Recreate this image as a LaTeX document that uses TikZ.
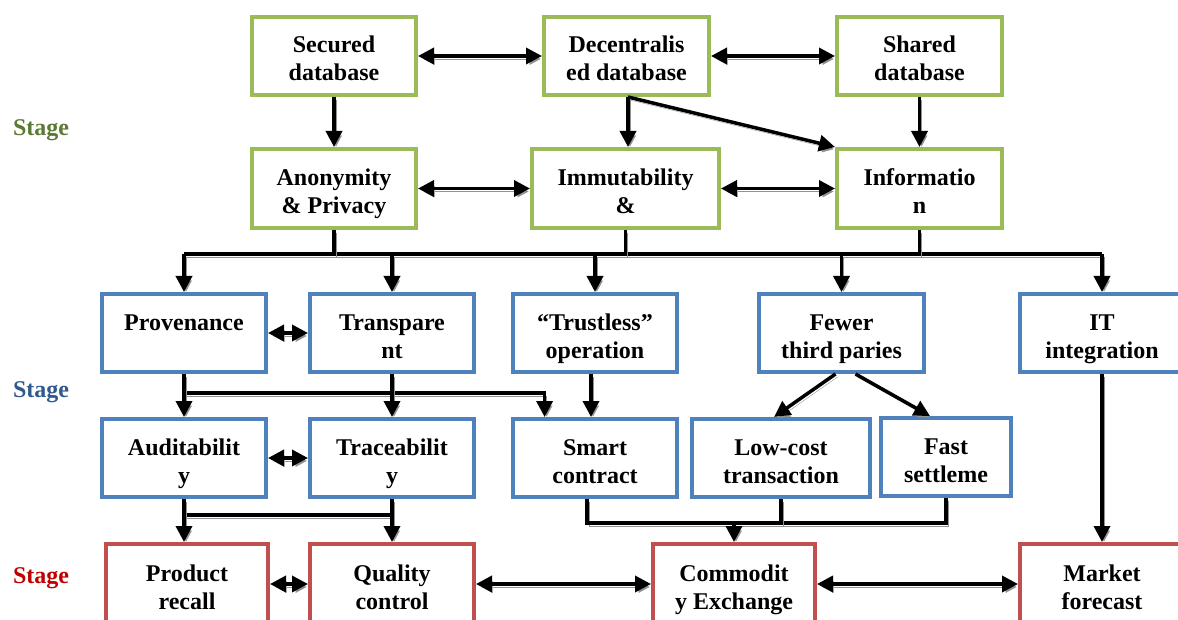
\documentclass[tikz,border=0pt]{standalone}
\usepackage{fontspec}
\setmainfont{Liberation Serif}
\usetikzlibrary{arrows.meta,calc}

\definecolor{boxgreen}{HTML}{9BBB59}
\definecolor{boxblue}{HTML}{4F81BD}
\definecolor{boxred}{HTML}{C0504D}
\definecolor{stagegreen}{HTML}{5A7A32}
\definecolor{stageblue}{HTML}{2F5A8E}
\definecolor{stagered}{HTML}{C00000}
\definecolor{shadowgrey}{HTML}{929292}

% fixed height for the first line of every box label
\newcommand\boxstrut{\rule{0pt}{27.5pt}}

\tikzset{
  box/.style={draw, line width=4pt, fill=white, align=center, inner sep=0pt,
    minimum height=78pt, font=\fontsize{24}{28}\selectfont\bfseries,
    execute at end node={\rule[-5.5pt]{0pt}{5.5pt}}},
  gbox/.style={box, draw=boxgreen},
  bbox/.style={box, draw=boxblue},
  rbox/.style={box, draw=boxred},
  stagelabel/.style={font=\fontsize{24}{28}\selectfont\bfseries, inner sep=0pt},
  link/.style={line width=3.5pt,
    preaction={draw=shadowgrey, transform canvas={shift={(2pt,-3pt)}}}},
  tip/.tip={Triangle[length=16pt,width=16pt]},
  arr/.style={link, -tip},
  darr/.style={link, tip-tip},
}

\begin{document}
\begin{tikzpicture}[x=1pt,y=-1pt]
\useasboundingbox (0,0) rectangle (1178,620);
\clip (0,0) rectangle (1178,620);

% stage labels
\node[stagelabel, text=stagegreen] (st1) at (41,130) {Stage};
\node[stagelabel, text=stageblue]  (st2) at (41,392) {Stage};
\node[stagelabel, text=stagered]   (st3) at (41,578) {Stage};

% stage 1: database properties
\node[gbox, minimum width=164pt] (sec) at (334,56)   {\boxstrut Secured\\database};
\node[gbox, minimum width=165pt] (dec) at (626.5,56) {\boxstrut Decentralis\\ed database};
\node[gbox, minimum width=165pt] (sha) at (919.5,56) {\boxstrut Shared\\database};

\node[gbox, minimum width=164pt, minimum height=79pt] (ano) at (334,188.5)   {\boxstrut Anonymity\\\& Privacy};
\node[gbox, minimum width=187pt, minimum height=79pt] (imm) at (625.5,188.5) {\boxstrut Immutability\\\&};
\node[gbox, minimum width=165pt, minimum height=79pt] (inf) at (919.5,188.5) {\boxstrut Informatio\\n};

% stage 2: features
\node[bbox, minimum width=164pt] (pro) at (184,333)   {\boxstrut Provenance\\\phantom{y}};
\node[bbox, minimum width=164pt] (tra) at (392,333)   {\boxstrut Transpare\\nt};
\node[bbox, minimum width=164pt] (tru) at (595,333)   {\boxstrut “Trustless”\\operation};
\node[bbox, minimum width=165pt] (few) at (841.5,333) {\boxstrut Fewer\\third paries};
\node[bbox, minimum width=164pt] (itg) at (1102,333)  {\boxstrut IT\\integration};

\node[bbox, minimum width=164pt] (aud) at (184,458) {\boxstrut Auditabilit\\y};
\node[bbox, minimum width=164pt] (trc) at (392,458) {\boxstrut Traceabilit\\y};
\node[bbox, minimum width=164pt] (sma) at (595,458) {\boxstrut Smart\\contract};
\node[bbox, minimum width=178pt] (low) at (781,458) {\boxstrut Low-cost\\transaction};
\node[bbox, minimum width=130pt] (fas) at (946,457) {\boxstrut Fast\\settleme};

% stage 3: applications
\node[rbox, minimum width=162pt, minimum height=80pt] (prd) at (187,584)  {\boxstrut Product\\recall};
\node[rbox, minimum width=164pt, minimum height=80pt] (qua) at (392,584)  {\boxstrut Quality\\control};
\node[rbox, minimum width=162pt, minimum height=80pt] (com) at (734,584)  {\boxstrut Commodit\\y Exchange};
\node[rbox, minimum width=164pt, minimum height=80pt] (mkt) at (1102,584) {\boxstrut Market\\forecast};

% stage 1 links
\coordinate (decOut) at ($(dec.south)+(1.5,0)$);
\coordinate (immIn) at (decOut |- imm.north);
\draw[darr] (sec.east) -- (dec.west);
\draw[darr] (dec.east) -- (sha.west);
\draw[arr] (sec.south) -- (ano.north);
\draw[arr] (decOut) -- (immIn);
\draw[arr] (decOut) -- (inf.north west);
\draw[arr] (sha.south) -- (inf.north);
\draw[darr] (ano.east) -- (imm.west);
\draw[darr] (imm.east) -- (inf.west);

% distribution bus to stage 2
\coordinate (bus) at (0,254);
\draw[link] (pro.north |- bus) -- (itg.north |- bus);
\draw[link] (ano.south) -- (ano.south |- bus);
\draw[link] (imm.south) -- (imm.south |- bus);
\draw[link] (inf.south) -- (inf.south |- bus);
\draw[arr] (pro.north |- bus) -- (pro.north);
\draw[arr] (tra.north |- bus) -- (tra.north);
\draw[arr] (tru.north |- bus) -- (tru.north);
\draw[arr] (few.north |- bus) -- (few.north);
\draw[arr] (itg.north |- bus) -- (itg.north);

% stage 2 links
\draw[darr] (pro.east) -- (tra.west);
\coordinate (bus2) at (0,393);
\coordinate (smaIn) at ($(sma.north west)!0.2!(sma.north east)$);
\coordinate (truOut) at ($(tru.south)+(-4,0)$);
\coordinate (smaTop) at ($(sma.north)+(-4,0)$);
\coordinate (fewL) at ($(few.south)+(-6,0)$);
\coordinate (fewR) at ($(few.south)+(14,0)$);
\coordinate (lowIn) at ($(low.north)+(-7,0)$);
\coordinate (fasIn) at ($(fas.north)+(-16,0)$);
\draw[arr] (pro.south |- bus2) -| (smaIn);
\draw[arr] (pro.south) -- (aud.north);
\draw[arr] (tra.south) -- (trc.north);
\draw[arr] (truOut) -- (smaTop);
\draw[arr] (fewL) -- (lowIn);
\draw[arr] (fewR) -- (fasIn);
\draw[darr] (aud.east) -- (trc.west);

% links to stage 3
\coordinate (bus3) at (0,515);
\draw[link] (aud.south |- bus3) -- (trc.south |- bus3);
\draw[arr] (aud.south) -- (aud.south |- prd.north);
\draw[arr] (trc.south) -- (qua.north);

\coordinate (bus4) at (0,523);
\coordinate (smaOut) at ($(sma.south)+(-8,0)$);
\draw[link] (smaOut) |- (fas.south |- bus4) -- (fas.south);
\draw[link] (low.south) -- (low.south |- bus4);
\draw[arr] (com.north |- bus4) -- (com.north);
\draw[arr] (itg.south) -- (mkt.north);

% stage 3 links
\draw[darr] (prd.east) -- (qua.west);
\draw[darr] (qua.east) -- (com.west);
\draw[darr] (com.east) -- (mkt.west);
\end{tikzpicture}
\end{document}
